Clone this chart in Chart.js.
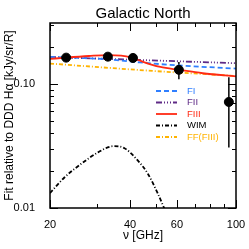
<!DOCTYPE html>
<html>
<head>
<meta charset="utf-8">
<script src="https://cdn.jsdelivr.net/npm/chart.js@4.4.1/dist/chart.umd.min.js"></script>
<style>
  body { margin: 0; background: #fff; }
</style>
</head>
<body>
<canvas id="grafica" width="249" height="249"></canvas>
<script>
// datos (GHz, ajuste relativo a DDD Halpha)
const freqPuntos = [23, 33, 41, 61, 94];
const valPuntos = [0.163, 0.166, 0.162, 0.130, 0.0716];
const errBajo = [0.159, 0.162, 0.158, 0.109, 0.0307];
const errAlto = [0.167, 0.170, 0.166, 0.150, 0.113];

const freqFI = [20, 33, 43.6, 61, 100];
const valFI = [0.165, 0.158, 0.149, 0.141, 0.133];

const freqFII = [20, 43.6, 100];
const valFII = [0.165, 0.156, 0.147];

const freqFIII = [20, 23, 28, 33, 37, 40.4, 43.6, 46.7, 52, 61, 75, 100];
const valFIII = [0.159, 0.163, 0.168, 0.171, 0.169, 0.163, 0.154, 0.146, 0.137, 0.130, 0.122, 0.115];

const freqWIM = [20, 22.7, 26.2, 30.3, 34.6, 38.1, 42.8, 46.7, 50.9, 54];
const valWIM = [0.0132, 0.0177, 0.0227, 0.0281, 0.0315, 0.0303, 0.0241, 0.0188, 0.0130, 0.0097];

const freqFF = [20, 47, 100];
const valFF = [0.146, 0.128, 0.116];

const xEtiquetas = [20, 40, 60, 100];
const xMenores = [30, 50, 70, 80, 90];
const yEtiquetas = [0.01, 0.1];
const yTextos = ['0.01', '0.10'];
const yMenores = [0.02, 0.03, 0.04, 0.05, 0.06, 0.07, 0.08, 0.09, 0.2, 0.3];

const leyenda = [
    { texto: 'FI', color: '#2f7fff', dash: [5, 3] },
    { texto: 'FII', color: '#5e2a86', dash: [6, 2, 1, 2, 1, 2, 1, 2] },
    { texto: 'FIII', color: '#ff2a14', dash: [] },
    { texto: 'WIM', color: '#000000', dash: [4, 2, 1, 2] },
    { texto: 'FF(FIII)', color: '#ffb300', dash: [4, 2, 1, 2] }
];

const aPuntos = (xs, ys) => xs.map((x, i) => ({ x: x, y: ys[i] }));
const cerca = (a, b) => Math.abs(a - b) / b < 0.01;

const linea = (datos, estilo) => ({
    type: 'line',
    data: datos,
    borderColor: estilo.color,
    borderDash: estilo.dash,
    borderWidth: 1.8,
    pointRadius: 0,
    fill: false,
    tension: 0.4,
    cubicInterpolationMode: 'monotone'
});

const marcos = {
    id: 'marcos',
    beforeDatasetsDraw(chart) {
        const ctx = chart.ctx;
        const x = chart.scales.x, y = chart.scales.y;
        ctx.save();
        ctx.strokeStyle = '#000';
        ctx.lineWidth = 1.5;
        freqPuntos.forEach((f, i) => {
            ctx.beginPath();
            ctx.moveTo(x.getPixelForValue(f), y.getPixelForValue(errBajo[i]));
            ctx.lineTo(x.getPixelForValue(f), y.getPixelForValue(errAlto[i]));
            ctx.stroke();
        });
        ctx.restore();
    },
    afterDraw(chart) {
        const ctx = chart.ctx;
        const a = chart.chartArea;
        const x = chart.scales.x, y = chart.scales.y;
        ctx.save();
        ctx.strokeStyle = '#000';
        ctx.lineWidth = 1.5;
        ctx.strokeRect(a.left, a.top, a.right - a.left, a.bottom - a.top);

        ctx.lineWidth = 1;
        const marcaX = (v, largo) => {
            const px = Math.round(x.getPixelForValue(v)) + 0.5;
            ctx.beginPath();
            ctx.moveTo(px, a.bottom); ctx.lineTo(px, a.bottom - largo);
            ctx.moveTo(px, a.top); ctx.lineTo(px, a.top + largo);
            ctx.stroke();
        };
        const marcaY = (v, largo) => {
            const py = Math.round(y.getPixelForValue(v)) + 0.5;
            ctx.beginPath();
            ctx.moveTo(a.left, py); ctx.lineTo(a.left + largo, py);
            ctx.moveTo(a.right, py); ctx.lineTo(a.right - largo, py);
            ctx.stroke();
        };
        xEtiquetas.forEach(v => marcaX(v, 8));
        xMenores.forEach(v => marcaX(v, 4));
        yEtiquetas.forEach(v => marcaY(v, 8));
        yMenores.forEach(v => marcaY(v, 4));

        // leyenda dentro del area
        ctx.font = '9.5px "Liberation Sans", Arial, sans-serif';
        ctx.textBaseline = 'middle';
        leyenda.forEach((l, i) => {
            const py = 91 + i * 11.5;
            ctx.strokeStyle = l.color;
            ctx.lineWidth = 1.8;
            ctx.setLineDash(l.dash);
            ctx.beginPath();
            ctx.moveTo(156, py);
            ctx.lineTo(177, py);
            ctx.stroke();
            ctx.setLineDash([]);
            ctx.fillStyle = l.color;
            ctx.fillText(l.texto, 187, py);
        });
        ctx.restore();
    }
};

Chart.defaults.font.family = '"Liberation Sans", Arial, sans-serif';
Chart.defaults.color = '#000';

const ctx = document.getElementById('grafica').getContext('2d');
const myChart = new Chart(ctx, {
    type: 'line',
    data: {
        datasets: [
            {
                type: 'scatter',
                data: aPuntos(freqPuntos, valPuntos),
                showLine: false,
                pointRadius: 4.5,
                pointBackgroundColor: '#000',
                pointBorderColor: '#000'
            },
            linea(aPuntos(freqFIII, valFIII), leyenda[2]),
            linea(aPuntos(freqFI, valFI), leyenda[0]),
            linea(aPuntos(freqFII, valFII), leyenda[1]),
            linea(aPuntos(freqWIM, valWIM), leyenda[3]),
            linea(aPuntos(freqFF, valFF), leyenda[4])
        ]
    },
    options: {
        responsive: false,
        animation: false,
        layout: { padding: { left: 0, right: 13, top: 0, bottom: 0 } },
        plugins: {
            legend: { display: false },
            tooltip: { enabled: false },
            title: {
                display: true,
                fullSize: false,
                text: 'Galactic North',
                font: { size: 15, weight: 'normal' },
                padding: { top: 5, bottom: 0 },
                color: '#000'
            }
        },
        scales: {
            x: {
                type: 'logarithmic',
                min: 20,
                max: 100,
                grid: { display: false },
                border: { display: false },
                ticks: {
                    autoSkip: false,
                    maxRotation: 0,
                    padding: 2,
                    font: { size: 11 },
                    callback: v => xEtiquetas.some(t => cerca(v, t)) ? String(v) : ''
                },
                title: {
                    display: true,
                    text: 'ν [GHz]',
                    font: { size: 12 },
                    padding: { top: 0, bottom: 6 }
                },
                afterFit: s => { s.height = 41; }
            },
            y: {
                type: 'logarithmic',
                min: 0.01,
                max: 0.31,
                grid: { display: false },
                border: { display: false },
                ticks: {
                    autoSkip: false,
                    padding: 7,
                    font: { size: 11 },
                    callback: v => {
                        const i = yEtiquetas.findIndex(t => cerca(v, t));
                        return i >= 0 ? yTextos[i] : '';
                    }
                },
                title: {
                    display: true,
                    text: 'Fit relative to DDD Hα [kJy/sr/R]',
                    font: { size: 12 },
                    padding: { top: 2, bottom: 0 }
                },
                afterFit: s => { s.width = 50; }
            }
        }
    },
    plugins: [marcos]
});
</script>
</body>
</html>
